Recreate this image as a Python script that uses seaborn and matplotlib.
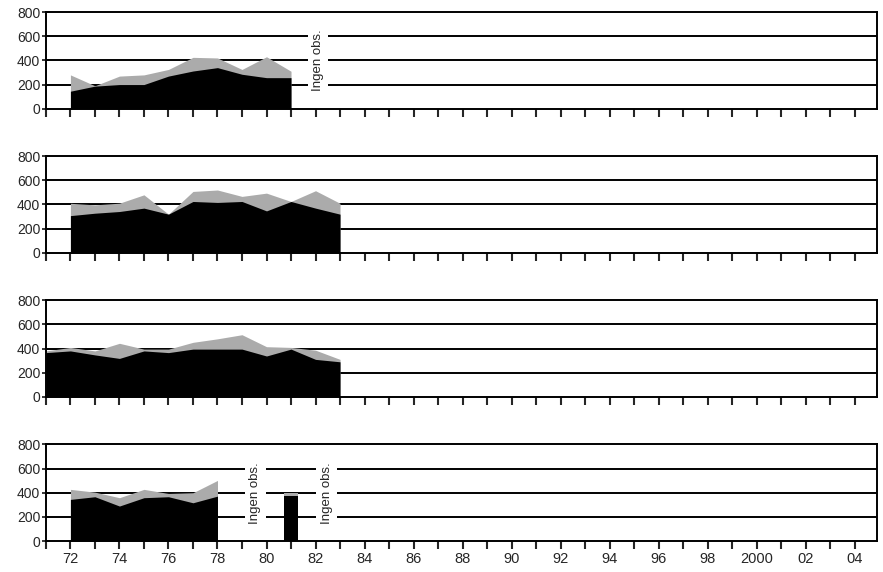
import matplotlib
matplotlib.use("Agg")
import matplotlib.pyplot as plt
import seaborn as sns
import numpy as np

# data (two series per panel: gray = upper, black = lower)
years_1 = [72, 73, 74, 75, 76, 77, 78, 79, 80, 81]
gray_1 = [280, 190, 270, 280, 325, 425, 420, 325, 430, 310]
black_1 = [145, 187, 200, 200, 270, 312, 340, 285, 257, 257]

years_2 = [72, 73, 74, 75, 76, 77, 78, 79, 80, 81, 82, 83]
gray_2 = [410, 397, 411, 480, 320, 508, 520, 467, 494, 425, 514, 410]
black_2 = [308, 328, 342, 370, 320, 425, 417, 425, 347, 425, 370, 320]

years_3 = [71, 72, 73, 74, 75, 76, 77, 78, 79, 80, 81, 82, 83]
gray_3 = [381, 410, 381, 444, 396, 396, 452, 481, 515, 416, 410, 387, 311]
black_3 = [367, 381, 348, 319, 381, 367, 396, 396, 396, 339, 396, 311, 291]

years_4 = [72, 73, 74, 75, 76, 77, 78]
gray_4 = [428, 405, 359, 428, 394, 400, 502]
black_4 = [345, 367, 290, 359, 367, 317, 372]
bar_year_4 = 81
bar_gray_4 = 400
bar_black_4 = 372

panels = [
    (years_1, gray_1, black_1),
    (years_2, gray_2, black_2),
    (years_3, gray_3, black_3),
    (years_4, gray_4, black_4),
]
no_obs = [[82.1], [], [], [79.55, 82.45]]

all_years = list(range(71, 105))
label_years = list(range(72, 105, 2))
labels = [("2000" if y == 100 else "%02d" % (y % 100)) for y in label_years]

sns.set_style("ticks")
plt.rcParams["font.family"] = ["Liberation Sans", "DejaVu Sans"]

fig, axes = plt.subplots(4, 1, figsize=(8.83, 5.72), dpi=100)
fig.subplots_adjust(left=0.052, right=0.993, top=0.979, bottom=0.054, hspace=0.49)

GRAY = "#ababab"

for i, (ax, (yrs, gr, bl)) in enumerate(zip(axes, panels)):
    ax.fill_between(yrs, 0, gr, color=GRAY, lw=0, zorder=2)
    ax.fill_between(yrs, 0, bl, color="black", lw=0, zorder=3)
    if i == 3:
        ax.bar([bar_year_4], [bar_gray_4], width=0.55, color=GRAY, lw=0, zorder=2)
        ax.bar([bar_year_4], [bar_black_4], width=0.55, color="black", lw=0, zorder=3)
    for yv in [200, 400, 600]:
        ax.axhline(yv, color="black", lw=1.4, zorder=1)
    for xt in no_obs[i]:
        ax.text(xt, 400, "Ingen obs.", rotation=90, ha="center", va="center",
                fontsize=9.5, zorder=5,
                bbox=dict(facecolor="white", edgecolor="none", pad=3))
    ax.set_xlim(71, 104.9)
    ax.set_ylim(0, 800)
    ax.set_yticks([0, 200, 400, 600, 800])
    ax.set_xticks(all_years)
    ax.set_xticks([], minor=True)
    if i == 3:
        ax.set_xticklabels([labels[label_years.index(y)] if y in label_years else "" for y in all_years])
    else:
        ax.set_xticklabels([])
    ax.tick_params(axis="x", direction="out", length=6, width=1.5, labelsize=10.5, pad=2)
    ax.tick_params(axis="y", direction="inout", length=6, width=1.3, labelsize=10, pad=1)
    for s in ax.spines.values():
        s.set_linewidth(1.4)
        s.set_color("black")
        s.set_zorder(6)

fig.savefig("out.png", dpi=100)
